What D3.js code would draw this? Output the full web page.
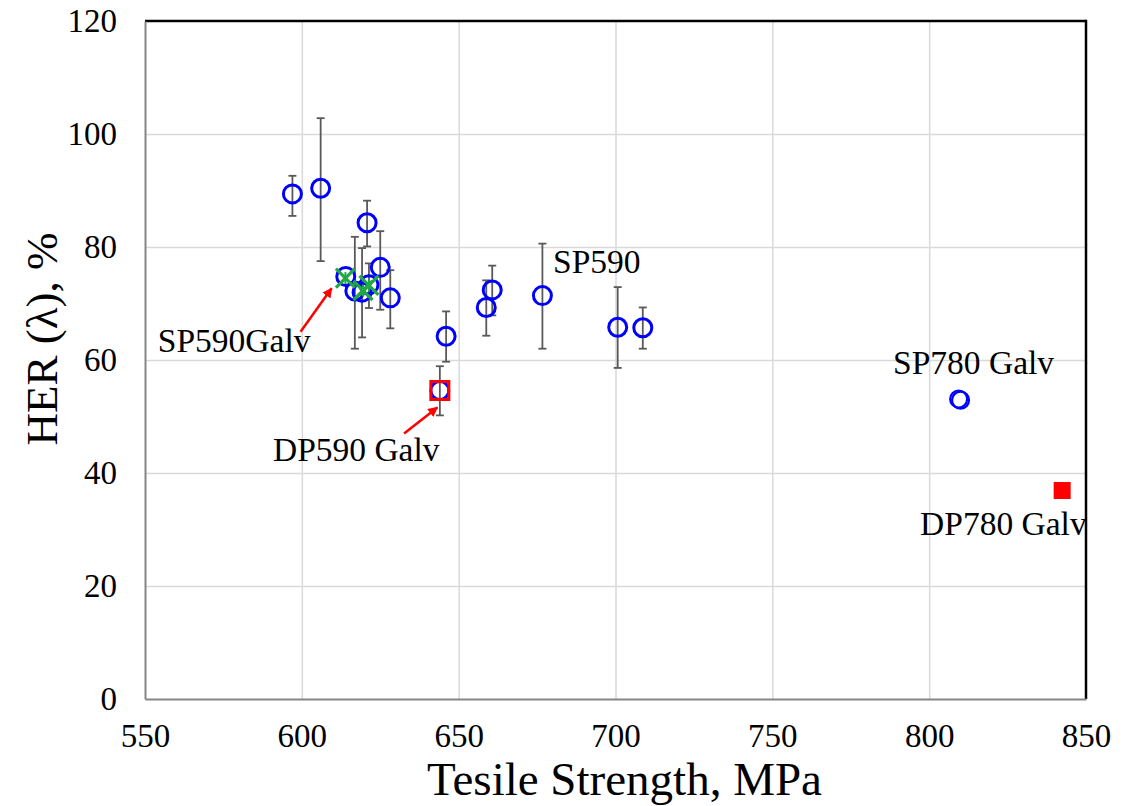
<!DOCTYPE html>
<html>
<head>
<meta charset="utf-8">
<script src="https://cdn.jsdelivr.net/npm/d3@7"></script>
<style>
  body { margin: 0; background: #fff; }
  text { font-family: "Liberation Serif", "Times New Roman", serif; fill: #000; }
</style>
</head>
<body>
<div class="chart-area"></div>
<script>
// SP590 bare (blue open circles) with error bars
const spTensile = [597, 606, 620.8, 625, 628.2, 614, 616.9, 619.2, 621.4, 646, 644, 658.8, 660.7, 676.7, 700.7, 708.7];
const spHer     = [89.4, 90.4, 84.3, 76.4, 71.0, 74.8, 72.2, 72.0, 73.3, 64.2, 54.6, 69.3, 72.4, 71.4, 65.8, 65.7];
const spHerLow  = [85.5, 77.5, 80.1, 68.9, 65.6, null, 62.0, 64.0, 69.2, 59.7, 50.2, 64.3, 67.9, 62.0, 58.6, 62.0];
const spHerHigh = [92.6, 102.8, 88.2, 82.8, 75.9, null, 81.8, 79.8, 77.1, 68.6, 58.9, 74.1, 76.7, 80.6, 72.9, 69.3];

// SP780 Galv (blue open circles, no error bars)
const sp780Tensile = [809.4, 810.0];
const sp780Her = [53.1, 52.9];

// SP590 Galv (green crosses)
const spGalvTensile = [613.9, 619.5, 621.4];
const spGalvHer = [74.5, 72.3, 73.2];

// DP590 Galv (red open square), DP780 Galv (red filled square)
const dp590Tensile = [644];
const dp590Her = [54.6];
const dp780Tensile = [842.4];
const dp780Her = [36.9];

const xTicks = [550, 600, 650, 700, 750, 800, 850];
const yTicks = [0, 20, 40, 60, 80, 100, 120];

// annotation labels and arrows, in data units
const labels = [
  {text: "SP590", x: 680.1, y: 75.4},
  {text: "SP590Galv", x: 554.1, y: 61.4},
  {text: "DP590 Galv", x: 590.8, y: 42.1},
  {text: "SP780 Galv", x: 788.5, y: 57.5},
  {text: "DP780 Galv", x: 797.1, y: 29.0}
];
const arrows = [
  {x1: 599.6, y1: 65.0, x2: 609.5, y2: 72.7},
  {x1: 632.6, y1: 47.0, x2: 643.2, y2: 51.6}
];

let outerWidth = 1136;
let outerHeight = 806;
let margin = {top: 21, right: 50, bottom: 107, left: 145};
let width = outerWidth - margin.left - margin.right, height = outerHeight - margin.top - margin.bottom;

let root = d3.select('.chart-area').append('svg')
    .attr('width', outerWidth)
    .attr('height', outerHeight);

root.append("defs").append("marker")
    .attr("id", "head")
    .attr("viewBox", "0 0 10 10")
    .attr("refX", 9).attr("refY", 5)
    .attr("markerWidth", 4).attr("markerHeight", 4)
    .attr("markerUnits", "strokeWidth")
    .attr("orient", "auto")
    .append("path")
    .attr("d", "M0,0 L10,5 L0,10 z")
    .attr("fill", "#ff0000");

let svg = root.append("g")
    .attr("transform", "translate(" + margin.left + "," + margin.top + ")");

let xScale = d3.scaleLinear().domain([550, 850]).range([0, width]);
let yScale = d3.scaleLinear().domain([0, 120]).range([height, 0]);

// gridlines
let xGrid = d3.axisBottom(xScale).tickValues(xTicks.slice(1, -1)).tickSize(-height).tickFormat("");
let yGrid = d3.axisLeft(yScale).tickValues(yTicks.slice(1, -1)).tickSize(-width).tickFormat("");
svg.append("g").attr("transform", `translate(0, ${height})`).call(xGrid)
    .call(g => g.select(".domain").remove())
    .selectAll("line").attr("stroke", "#d9d9d9").attr("stroke-width", 1.5);
svg.append("g").call(yGrid)
    .call(g => g.select(".domain").remove())
    .selectAll("line").attr("stroke", "#d9d9d9").attr("stroke-width", 1.5);

// frame: grey left/bottom, black top/right
svg.append("line").attr("x1", 0).attr("x2", width).attr("y1", 0).attr("y2", 0)
    .attr("stroke", "#000").attr("stroke-width", 2.5);
svg.append("line").attr("x1", width).attr("x2", width).attr("y1", -1.2).attr("y2", height)
    .attr("stroke", "#000").attr("stroke-width", 2.5);

let xAxis = d3.axisBottom(xScale).tickValues(xTicks).tickSize(0).tickPadding(25);
let yAxis = d3.axisLeft(yScale).tickValues(yTicks).tickSize(0).tickPadding(28);

let xaxis = svg.append("g").attr("transform", `translate(0, ${height})`).call(xAxis);
let yaxis = svg.append("g").call(yAxis);
[xaxis, yaxis].forEach(a => {
  a.attr("font-family", null);
  a.select(".domain").attr("stroke", "#868686").attr("stroke-width", 2);
  a.selectAll("text").attr("font-size", 33).attr("fill", "#000");
});
xaxis.selectAll("text").attr("dy", "0.71em");

// axis titles
svg.append("text")
    .attr("x", (xScale(550) + xScale(850)) / 2 + 9)
    .attr("y", height + 96)
    .attr("text-anchor", "middle")
    .attr("font-size", 47)
    .text("Tesile Strength, MPa");

svg.append("text")
    .attr("transform", `translate(${57 - margin.left}, ${339 - margin.top}) rotate(-90)`)
    .attr("text-anchor", "middle")
    .attr("font-size", 45)
    .text("HER (λ), %");

// error bars
const spData = spTensile.map((t, i) => ({x: t, y: spHer[i], lo: spHerLow[i], hi: spHerHigh[i]}));
const eb = svg.append("g").attr("stroke", "#595959").attr("stroke-width", 1.8);
spData.filter(d => d.lo != null).forEach(d => {
  const cx = xScale(d.x);
  eb.append("line").attr("x1", cx).attr("x2", cx).attr("y1", yScale(d.lo)).attr("y2", yScale(d.hi));
  [d.lo, d.hi].forEach(v => {
    eb.append("line").attr("x1", cx - 4).attr("x2", cx + 4).attr("y1", yScale(v)).attr("y2", yScale(v));
  });
});

// blue open circles
svg.selectAll("circle.sp")
    .data(spData)
    .enter()
    .append("circle")
    .attr("class", "sp")
    .attr("cx", d => xScale(d.x))
    .attr("cy", d => yScale(d.y))
    .attr("r", 9)
    .attr("fill", "none")
    .attr("stroke", "#0000ff")
    .attr("stroke-width", 3);

svg.selectAll("circle.sp780")
    .data(sp780Tensile.map((t, i) => ({x: t, y: sp780Her[i]})))
    .enter()
    .append("circle")
    .attr("class", "sp780")
    .attr("cx", d => xScale(d.x))
    .attr("cy", d => yScale(d.y))
    .attr("r", 8.5)
    .attr("fill", "none")
    .attr("stroke", "#0000ff")
    .attr("stroke-width", 2.2);

// green crosses
const cross = svg.append("g").attr("stroke", "#22a845").attr("stroke-width", 3.2);
spGalvTensile.forEach((t, i) => {
  const cx = xScale(t), cy = yScale(spGalvHer[i]), s = 9.5;
  cross.append("line").attr("x1", cx - s).attr("x2", cx + s).attr("y1", cy - s).attr("y2", cy + s);
  cross.append("line").attr("x1", cx - s).attr("x2", cx + s).attr("y1", cy + s).attr("y2", cy - s);
  cross.append("line").attr("x1", cx).attr("x2", cx).attr("y1", cy - 6).attr("y2", cy + 6).attr("stroke-width", 2);
});

// red squares
svg.selectAll("rect.dp590")
    .data(dp590Tensile.map((t, i) => ({x: t, y: dp590Her[i]})))
    .enter()
    .append("rect")
    .attr("x", d => xScale(d.x) - 9)
    .attr("y", d => yScale(d.y) - 9)
    .attr("width", 18).attr("height", 18)
    .attr("fill", "none")
    .attr("stroke", "#ff0000")
    .attr("stroke-width", 3);

svg.selectAll("rect.dp780")
    .data(dp780Tensile.map((t, i) => ({x: t, y: dp780Her[i]})))
    .enter()
    .append("rect")
    .attr("x", d => xScale(d.x) - 8.5)
    .attr("y", d => yScale(d.y) - 8.5)
    .attr("width", 17).attr("height", 17)
    .attr("fill", "#ff0000");

// annotations
svg.selectAll("text.labels")
    .data(labels)
    .enter()
    .append("text")
    .attr("x", d => xScale(d.x))
    .attr("y", d => yScale(d.y))
    .attr("font-size", 33.5)
    .text(d => d.text);

svg.selectAll("line.arrow")
    .data(arrows)
    .enter()
    .append("line")
    .attr("x1", d => xScale(d.x1))
    .attr("y1", d => yScale(d.y1))
    .attr("x2", d => xScale(d.x2))
    .attr("y2", d => yScale(d.y2))
    .attr("stroke", "#ff0000")
    .attr("stroke-width", 2.5)
    .attr("marker-end", "url(#head)");
</script>
</body>
</html>
